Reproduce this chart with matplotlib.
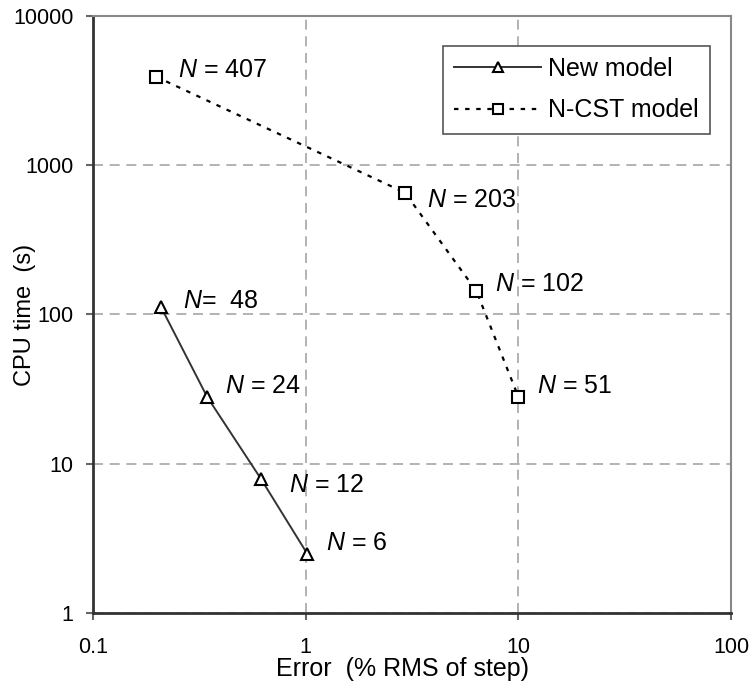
import numpy as np
import matplotlib
matplotlib.use("Agg")
import matplotlib.pyplot as plt

# series values (error in % RMS of step, CPU time in s)
new_err = [0.209, 0.344, 0.618, 1.02]
new_cpu = [112, 28.1, 7.87, 2.48]
new_labels = ["N=  48", "N = 24", "N = 12", "N = 6"]

cst_err = [0.198, 2.93, 6.35, 10.0]
cst_cpu = [3920, 655, 143.6, 28.1]
cst_labels = ["N = 407", "N = 203", "N = 102", "N = 51"]

# label offsets in pixels from each point
new_offsets = [(22, -1), (18, 4), (28, -13), (19, 4)]
cst_offsets = [(22, 0), (22, -14), (19, 0), (19, 4)]

plt.rcParams["font.family"] = ["Liberation Sans", "DejaVu Sans"]
plt.rcParams["mathtext.fontset"] = "custom"
plt.rcParams["mathtext.it"] = "Liberation Sans:italic"
plt.rcParams["mathtext.rm"] = "Liberation Sans"

fig = plt.figure(figsize=(7.51, 6.86), dpi=100)
ax = fig.add_axes([0.1238, 0.1064, 0.8496, 0.8703])

ax.plot(new_err, new_cpu, color="#333333", lw=1.4, marker="^", ms=9,
        mfc="white", mec="black", mew=1.5, label="New model", zorder=3)
ax.plot(cst_err, cst_cpu, color="black", lw=1.6, ls=(0, (2, 3)), marker="s",
        ms=8, mfc="white", mec="black", mew=1.5, label="N-CST model", zorder=3)


def put_labels(xs, ys, labels, offsets):
    for x, y, lab, (dx, dy) in zip(xs, ys, labels, offsets):
        text = "$N$" + lab[1:]
        ax.annotate(text, (x, y), xytext=(dx, dy), textcoords="offset pixels",
                    fontsize=18, va="baseline", ha="left")


put_labels(new_err, new_cpu, new_labels, new_offsets)
put_labels(cst_err, cst_cpu, cst_labels, cst_offsets)

ax.set_xscale("log")
ax.set_yscale("log")
ax.set_xlim(0.1, 100)
ax.set_ylim(1, 10000)
ax.set_xticks([0.1, 1, 10, 100])
ax.set_xticklabels(["0.1", "1", "10", "100"])
ax.set_yticks([1, 10, 100, 1000, 10000])
ax.set_yticklabels(["1", "10", "100", "1000", "10000"])
ax.minorticks_off()

ax.grid(True, which="major", color="#a6a6a6", ls=(0, (6, 4)), lw=1.2)
ax.set_axisbelow(True)

for side in ["left", "bottom"]:
    ax.spines[side].set_color("#333333")
    ax.spines[side].set_linewidth(2)
for side in ["top", "right"]:
    ax.spines[side].set_color("#888888")
    ax.spines[side].set_linewidth(1.5)
ax.tick_params(axis="both", which="major", length=5, width=1.5,
               color="#666666", labelsize=15.5, pad=9)
ax.tick_params(axis="x", pad=12.5)

ax.set_xlabel("Error  (% RMS of step)", fontsize=18)
ax.xaxis.set_label_coords(0.485, -0.074)
ax.set_ylabel("CPU time  (s)", fontsize=17)
ax.yaxis.set_label_coords(-0.089, 0.499)

leg = ax.legend(loc="upper left", bbox_to_anchor=(0.548, 0.950),
                borderaxespad=0, fontsize=18, handlelength=3.5,
                handletextpad=0.27, borderpad=0.45, labelspacing=0.69,
                fancybox=False, framealpha=1, edgecolor="#555555")
leg.get_frame().set_linewidth(1.2)
for h in leg.legend_handles:
    h.set_markersize(7)

fig.savefig("out.png", dpi=100)
